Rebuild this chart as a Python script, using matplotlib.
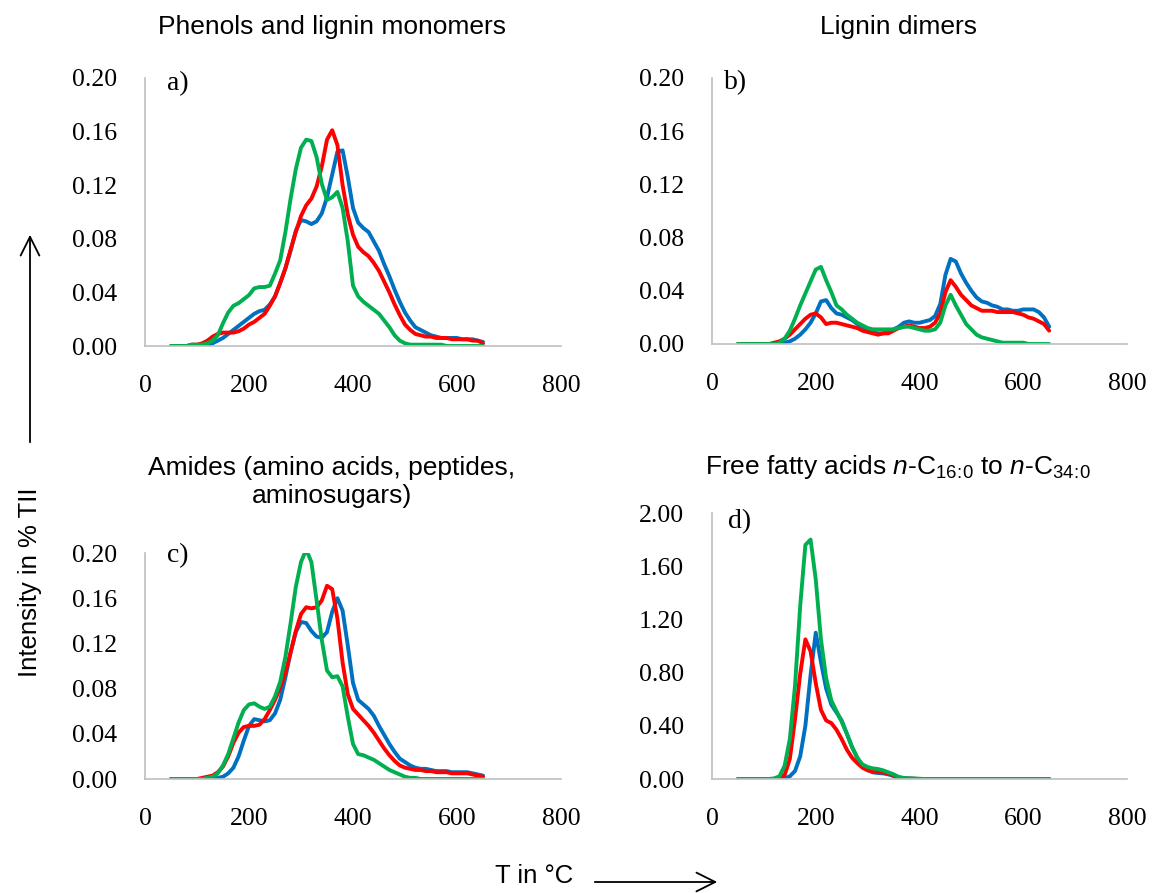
import matplotlib
matplotlib.use('Agg')
import matplotlib.pyplot as plt

plt.rcParams['font.family'] = 'Liberation Sans'
plt.rcParams['mathtext.fontset'] = 'custom'
plt.rcParams['mathtext.rm'] = 'Liberation Sans'
plt.rcParams['mathtext.it'] = 'Liberation Sans:italic'

# temperature in degC, 50..650 every 10
temps = list(range(50, 660, 10))

a_blue = [0, 0, 0, 0, 0, 0, .001, .001, .002, .004,
	.006, .009, .012, .015, .018, .021, .024, .026, .027, .031,
	.037, .047, .058, .071, .086, .094, .093, .091, .093, .099,
	.111, .128, .145, .146, .126, .103, .092, .088, .085, .078,
	.071, .061, .052, .042, .033, .025, .019, .014, .012, .010,
	.008, .007, .006, .006, .006, .006, .005, .005, .005, .004,
	.003]
a_red = [0, 0, 0, 0, .001, .001, .002, .004, .007, .009,
	.010, .010, .010, .011, .013, .016, .018, .021, .024, .030,
	.037, .047, .058, .072, .085, .097, .105, .110, .119, .134,
	.154, .161, .150, .120, .098, .083, .074, .070, .067, .062,
	.056, .048, .040, .031, .023, .016, .012, .009, .008, .007,
	.007, .006, .006, .006, .005, .005, .005, .005, .004, .004,
	.002]
a_green = [0, 0, 0, 0, .001, .001, .001, .002, .004, .008,
	.017, .025, .030, .032, .035, .038, .043, .044, .044, .045,
	.054, .064, .085, .110, .132, .148, .154, .153, .141, .121,
	.109, .111, .115, .103, .078, .045, .037, .033, .030, .027,
	.024, .019, .014, .008, .004, .002, .001, .001, .001, .001,
	.001, .001, .001, 0, 0, 0, 0, 0, 0, 0,
	0]

b_blue = [0, 0, 0, 0, 0, 0, 0, 0, 0, .001,
	.002, .004, .007, .011, .016, .023, .032, .033, .027, .023,
	.022, .020, .018, .015, .013, .011, .009, .008, .008, .009,
	.011, .013, .016, .017, .016, .016, .017, .018, .021, .030,
	.052, .064, .062, .053, .046, .040, .035, .032, .031, .029,
	.028, .026, .026, .025, .025, .026, .026, .026, .024, .020,
	.013]
b_red = [0, 0, 0, 0, 0, 0, 0, .001, .002, .004,
	.007, .011, .015, .019, .022, .023, .020, .015, .016, .016,
	.015, .014, .013, .012, .010, .009, .008, .007, .008, .008,
	.010, .012, .013, .014, .013, .012, .012, .013, .016, .023,
	.039, .048, .043, .037, .033, .029, .027, .025, .025, .025,
	.024, .024, .024, .024, .023, .022, .020, .019, .017, .015,
	.010]
b_green = [0, 0, 0, 0, 0, 0, 0, 0, .001, .004,
	.010, .019, .029, .038, .047, .056, .058, .048, .039, .029,
	.026, .022, .019, .016, .014, .012, .011, .011, .011, .011,
	.011, .012, .013, .013, .012, .011, .010, .010, .011, .016,
	.029, .037, .029, .022, .015, .011, .007, .005, .004, .003,
	.002, .001, .001, .001, .001, .001, 0, 0, 0, 0,
	0]

c_blue = [0, 0, 0, 0, 0, 0, 0, 0, 0, .001,
	.002, .005, .010, .020, .034, .047, .053, .052, .051, .052,
	.058, .070, .090, .112, .130, .139, .138, .131, .126, .125,
	.130, .148, .160, .149, .118, .085, .070, .066, .062, .056,
	.047, .039, .031, .024, .018, .015, .012, .010, .009, .009,
	.008, .007, .007, .007, .006, .006, .006, .006, .005, .004,
	.003]
c_red = [0, 0, 0, 0, 0, 0, .001, .002, .003, .006,
	.011, .020, .032, .041, .046, .047, .047, .048, .053, .061,
	.070, .081, .094, .112, .131, .146, .152, .151, .152, .158,
	.171, .168, .142, .103, .075, .062, .057, .052, .047, .041,
	.034, .027, .021, .016, .012, .010, .009, .008, .008, .007,
	.007, .006, .006, .006, .005, .005, .005, .005, .004, .003,
	.002]
c_green = [0, 0, 0, 0, 0, 0, 0, .001, .002, .005,
	.012, .022, .036, .050, .061, .066, .067, .064, .062, .064,
	.073, .086, .108, .138, .170, .192, .203, .192, .158, .123,
	.096, .090, .091, .082, .055, .031, .022, .021, .019, .017,
	.014, .011, .008, .006, .004, .002, .001, .001, 0, 0,
	0, 0, 0, 0, 0, 0, 0, 0, 0, 0,
	0]

d_blue = [0, 0, 0, 0, 0, 0, 0, 0, 0, .005,
	.02, .06, .17, .40, .78, 1.10, .88, .68, .56, .50,
	.44, .34, .24, .16, .10, .07, .05, .045, .042, .035,
	.022, .010, .005, .003, .002, 0, 0, 0, 0, 0,
	0, 0, 0, 0, 0, 0, 0, 0, 0, 0,
	0, 0, 0, 0, 0, 0, 0, 0, 0, 0,
	0]
d_red = [0, 0, 0, 0, 0, 0, 0, 0, .01, .03,
	.15, .45, .79, 1.05, .96, .72, .52, .44, .42, .37,
	.30, .22, .16, .12, .085, .065, .055, .052, .05, .04,
	.03, .012, .006, .003, .002, 0, 0, 0, 0, 0,
	0, 0, 0, 0, 0, 0, 0, 0, 0, 0,
	0, 0, 0, 0, 0, 0, 0, 0, 0, 0,
	0]
d_green = [0, 0, 0, 0, 0, 0, 0, .005, .02, .10,
	.30, .70, 1.30, 1.76, 1.80, 1.50, 1.05, .76, .59, .51,
	.43, .34, .24, .16, .11, .09, .08, .075, .065, .05,
	.035, .015, .008, .005, .003, .002, 0, 0, 0, 0,
	0, 0, 0, 0, 0, 0, 0, 0, 0, 0,
	0, 0, 0, 0, 0, 0, 0, 0, 0, 0,
	0]

titles = ['Phenols and lignin monomers', 'Lignin dimers',
	'Amides (amino acids, peptides,\naminosugars)',
	r'Free fatty acids $n$-C$_{16\!:\!0}$ to $n$-C$_{34\!:\!0}$']
letters = ['a)', 'b)', 'c)', 'd)']
yticks_small = [0, .04, .08, .12, .16, .20]
yticks_big = [0, .4, .8, 1.2, 1.6, 2.0]
xticks = [0, 200, 400, 600, 800]

colors = ['#0070C0', '#FF0000', '#00B050']
W, H = 1155, 893

fig = plt.figure(figsize=(W / 100, H / 100), dpi=100)

# axes boxes in pixels: left, top, right, bottom
boxes = [(145, 78, 561, 346), (712, 78, 1127, 344), (145, 553, 561, 779), (712, 513, 1127, 779)]
series = [(a_blue, a_red, a_green), (b_blue, b_red, b_green), (c_blue, c_red, c_green), (d_blue, d_red, d_green)]
title_pos = [(332, 27), (898, 27), (332, 482), (898, 467)]
letter_pos = [(167, 84), (724, 83), (167, 556), (728, 522)]

for i in range(4):
	l, t, r, b = boxes[i]
	ax = fig.add_axes([l / W, 1 - b / H, (r - l) / W, (b - t) / H])
	for k in range(3):
		ax.plot(temps, series[i][k], color=colors[k], lw=2.8, solid_joinstyle='round', solid_capstyle='round')
	ax.set_xlim(0, 800)
	ax.set_xticks(xticks)
	if i == 3:
		ax.set_ylim(0, 2.0)
		ax.set_yticks(yticks_big)
	else:
		ax.set_ylim(0, 0.2)
		ax.set_yticks(yticks_small)
	ax.set_yticklabels(['%.2f' % v for v in ax.get_yticks()])
	ax.tick_params(length=0, labelsize=18.5, pad=20)
	ax.tick_params(axis='x', pad=21)
	for lab in ax.get_xticklabels() + ax.get_yticklabels():
		lab.set_fontfamily('Liberation Serif')
	for s in ['top', 'right']:
		ax.spines[s].set_visible(False)
	for s in ['left', 'bottom']:
		ax.spines[s].set_color('#BFBFBF')
		ax.spines[s].set_linewidth(1.2)
	ax.patch.set_alpha(0)
	fig.text(title_pos[i][0] / W, 1 - title_pos[i][1] / H, titles[i], ha='center', va='center', fontsize=19, linespacing=1.25)
	fig.text(letter_pos[i][0] / W, 1 - letter_pos[i][1] / H, letters[i], ha='left', va='center', fontsize=20, family='Liberation Serif')

fig.text(30 / W, 1 - 582 / H, 'Intensity in % TII', rotation=90, ha='center', va='center', fontsize=18.5)
fig.text(534 / W, 1 - 876 / H, 'T in °C', ha='center', va='center', fontsize=18.5)
fig.add_artist(matplotlib.patches.FancyArrowPatch((30 / W, 1 - 445 / H), (30 / W, 1 - 232 / H), transform=fig.transFigure, arrowstyle='->,head_length=9,head_width=4.5', lw=1.3, color='black', mutation_scale=1.5))
fig.add_artist(matplotlib.patches.FancyArrowPatch((592 / W, 1 - 882 / H), (720 / W, 1 - 882 / H), transform=fig.transFigure, arrowstyle='->,head_length=9,head_width=4.5', lw=1.3, color='black', mutation_scale=1.5))

fig.savefig('out.png', dpi=100, facecolor='white')
